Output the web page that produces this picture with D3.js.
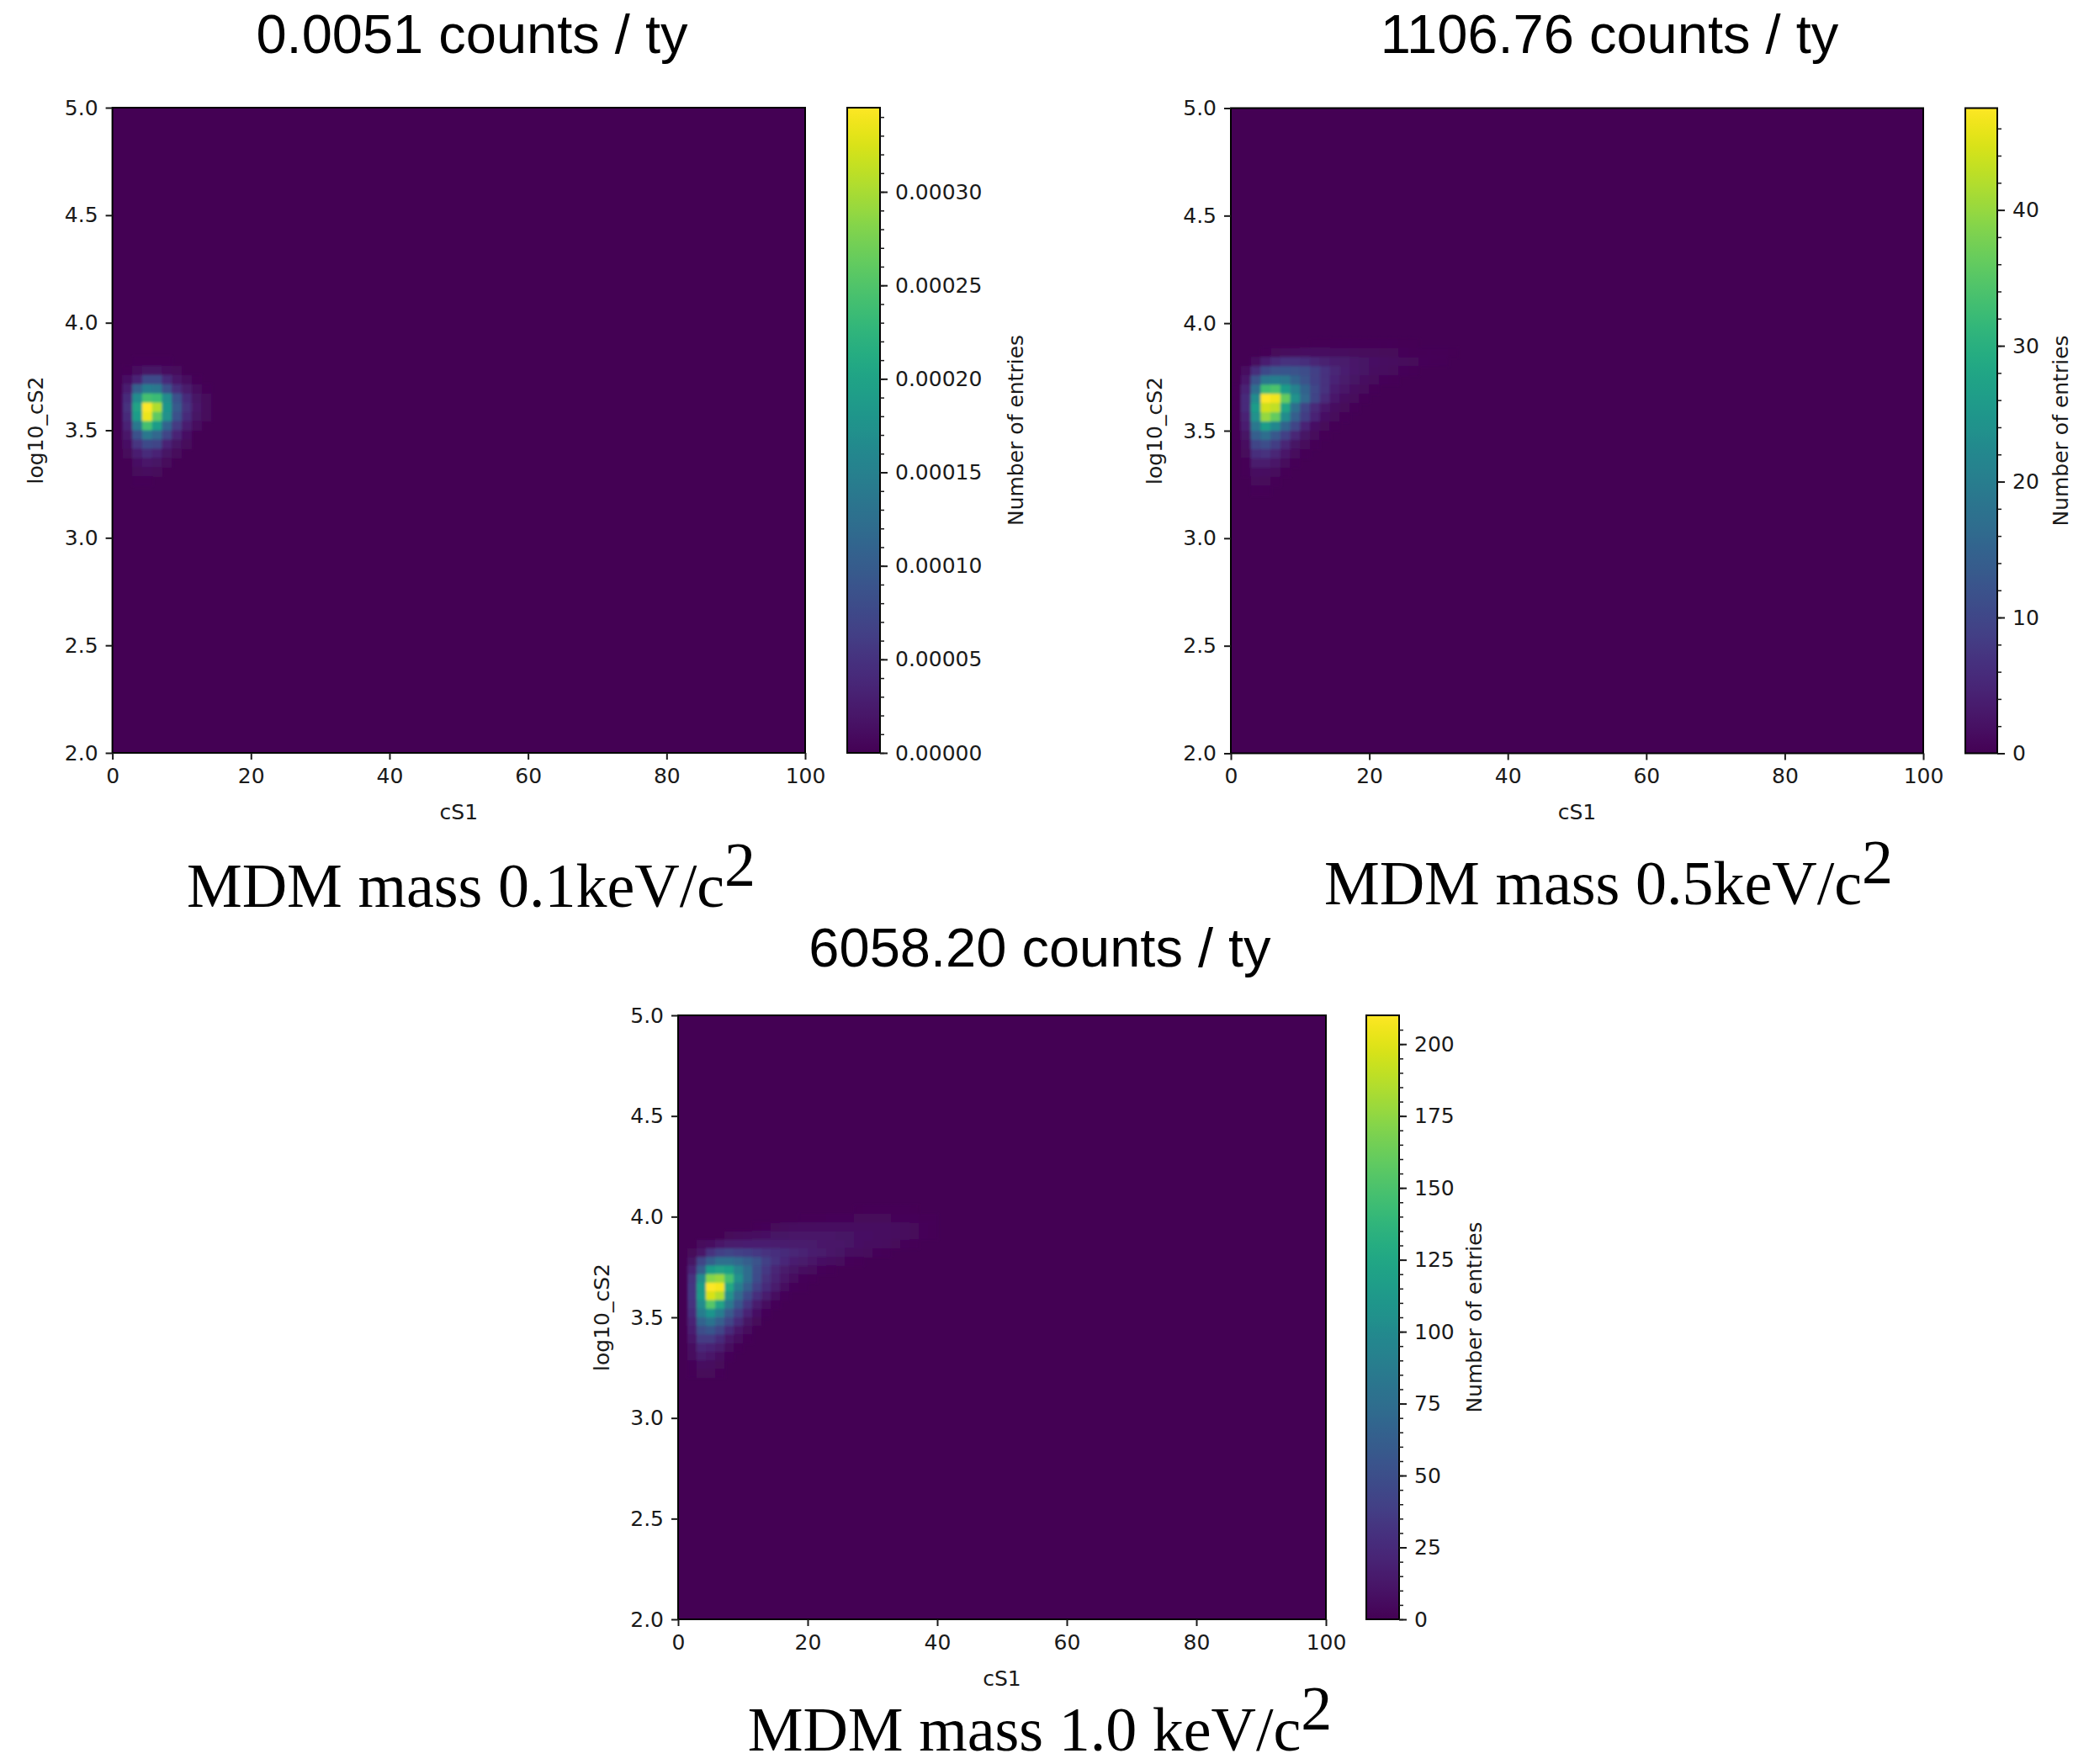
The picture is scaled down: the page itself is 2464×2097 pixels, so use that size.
<!DOCTYPE html>
<html><head><meta charset="utf-8">
<script src="https://cdn.jsdelivr.net/npm/d3@7"></script>
<style>body{margin:0;background:#fff} svg{display:block}</style>
</head><body>
<svg id="chart" width="2464" height="2097"></svg>
<script>
// ---------------- DATA ----------------
const xTicks = [0, 20, 40, 60, 80, 100];
const yTicks = [2.0, 2.5, 3.0, 3.5, 4.0, 4.5, 5.0];
const xDomain = [0, 100];
const yDomain = [2, 5];
const nBinsX = 70, nBinsY = 70;
const xLabel = "cS1";
const yLabel = "log10_cS2";
const cbarLabel = "Number of entries";

const titles = ["0.0051 counts / ty", "1106.76 counts / ty", "6058.20 counts / ty"];
const captions = ["MDM mass 0.1keV/c", "MDM mass 0.5keV/c", "MDM mass 1.0 keV/c"];
const captionSup = "2";

const cbarMax = [0.000345, 47.5, 210];
const cbarTicks1 = [0, 0.00005, 0.00010, 0.00015, 0.00020, 0.00025, 0.00030];
const cbarTicks2 = [0, 10, 20, 30, 40];
const cbarTicks3 = [0, 25, 50, 75, 100, 125, 150, 175, 200];
const cbarMinorStep = [0.00001, 2, 5];

// heat-map bins: [row from top (log10_cS2 bin, 0 = 4.957-5.0), first cS1 bin, values...]
const p1Rows = [
  [27, 2, [3e-6, 3e-6, 3e-6, 3e-6]],
  [28, 1, [3e-6, 1.0e-5, 1.7e-5, 1.7e-5, 1.0e-5, 7e-6]],
  [29, 1, [1.4e-5, 3.5e-5, 7.6e-5, 7.6e-5, 4.1e-5, 2.1e-5, 1.0e-5, 3e-6]],
  [30, 1, [2.8e-5, 1.04e-4, 1.45e-4, 1.38e-4, 8.6e-5, 4.5e-5, 2.4e-5, 1.0e-5, 3e-6]],
  [31, 1, [4.1e-5, 1.66e-4, 2.42e-4, 2.35e-4, 1.66e-4, 8.6e-5, 4.1e-5, 1.7e-5, 7e-6]],
  [32, 1, [4.8e-5, 2.0e-4, 3.45e-4, 3.04e-4, 1.79e-4, 9.7e-5, 4.8e-5, 2.1e-5, 7e-6]],
  [33, 1, [4.1e-5, 1.9e-4, 3.35e-4, 2.59e-4, 1.73e-4, 8.6e-5, 4.1e-5, 1.7e-5, 7e-6]],
  [34, 1, [3.5e-5, 1.38e-4, 2.42e-4, 1.9e-4, 1.1e-4, 5.9e-5, 2.8e-5, 1.0e-5]],
  [35, 1, [2.1e-5, 8.6e-5, 1.38e-4, 1.14e-4, 6.9e-5, 3.5e-5, 1.4e-5]],
  [36, 1, [1.4e-5, 5.2e-5, 7.6e-5, 6.9e-5, 3.5e-5, 1.7e-5, 7e-6]],
  [37, 1, [7e-6, 2.8e-5, 4.1e-5, 3.5e-5, 1.7e-5, 7e-6]],
  [38, 2, [1.4e-5, 2.1e-5, 1.7e-5, 7e-6]],
  [39, 2, [7e-6, 1.0e-5, 7e-6]],
  [40, 2, [3e-6, 3e-6]]
];

const p2Rows = [
  [25, 8, [0.1, 0.15, 0.2, 0.2, 0.25, 0.25, 0.25, 0.2, 0.2, 0.15, 0.1]],
  [26, 3, [0.5, 0.9, 1.2, 1.4, 1.5, 1.5, 1.5, 1.4, 1.3, 1.2, 1.1, 1, 0.9, 0.8, 0.7, 0.5, 0.4, 0.3, 0.2, 0.1]],
  [27, 2, [1.5, 3.8, 5.5, 6.5, 6.8, 6, 5, 4.2, 3.6, 3.2, 2.8, 2.4, 2, 1.7, 1.4, 1.1, 0.8, 0.6, 0.4, 0.2]],
  [28, 1, [1.5, 6, 10.5, 12, 12.5, 12, 11, 9, 7, 5, 4, 3, 2.3, 1.8, 1.3, 1, 0.6, 0.3]],
  [29, 1, [3, 12, 19, 20, 19, 15, 12, 9, 6.5, 4.5, 3.2, 2.3, 1.6, 1.1, 0.6, 0.3]],
  [30, 0, [0.5, 4.8, 17, 33, 34, 26, 21, 15, 10, 6.5, 4, 2.6, 1.6, 1, 0.5]],
  [31, 0, [0.5, 5.7, 23, 47.5, 46.5, 36, 24, 16, 9.5, 5.5, 3, 1.8, 1, 0.5]],
  [32, 0, [0.5, 5.7, 26, 44, 43, 28, 17, 9.5, 5.5, 3, 1.6, 0.8, 0.4]],
  [33, 0, [0.4, 4.8, 24, 40, 36, 23, 14, 8.5, 4.5, 2.2, 1, 0.4]],
  [34, 0, [0.3, 3.8, 19, 26, 22, 15, 9.5, 4.8, 2.2, 0.9, 0.3]],
  [35, 0, [0.2, 2.4, 14, 17, 13, 9, 5, 2.4, 1, 0.4]],
  [36, 1, [1.5, 9.5, 11, 8.5, 5, 2.4, 1, 0.4]],
  [37, 1, [1, 6, 6.5, 5, 2.8, 1.2, 0.4]],
  [38, 1, [0.5, 3.5, 3.5, 2.6, 1.2, 0.5]],
  [39, 1, [0.3, 1.8, 1.8, 1.2, 0.5]],
  [40, 2, [1, 0.9, 0.5]],
  [41, 2, [0.5, 0.4]]
];

const p3Rows = [
  [22, 19, [0.5, 1, 1, 1, 1, 1, 0.5]],
  [23, 13, [1, 2, 2, 3, 3, 3, 4, 4, 4, 4, 3, 3, 3, 2, 1]],
  [24, 8, [2, 3, 4, 5, 6, 7, 7, 8, 8, 8, 8, 8, 7, 7, 7, 6, 5, 4, 3, 2]],
  [25, 5, [4, 5, 6, 8, 9, 10, 10, 11, 11, 11, 11, 11, 10, 10, 9, 9, 8, 7, 6, 5, 4, 3, 1]],
  [26, 2, [5, 8, 13, 15, 16, 17, 17, 17, 16, 16, 15, 15, 14, 13, 12, 11, 10, 9, 8, 7, 6, 4, 3, 1]],
  [27, 1, [4, 12, 31, 40, 42, 40, 38, 35, 31, 28, 25, 22, 19, 16, 14, 12, 10, 8, 6, 5, 3, 2]],
  [28, 1, [10, 42, 63, 76, 76, 71, 63, 53, 40, 31, 23, 18, 14, 11, 9, 7, 5, 3, 2]],
  [29, 1, [21, 63, 115, 122, 118, 95, 74, 50, 35, 22, 14, 10, 7, 5, 3, 1]],
  [30, 1, [29, 101, 172, 178, 147, 105, 74, 48, 30, 19, 11, 6, 3, 1]],
  [31, 1, [32, 115, 210, 206, 126, 88, 63, 40, 25, 15, 7, 3, 1]],
  [32, 1, [32, 115, 197, 185, 105, 71, 46, 28, 16, 7, 3]],
  [33, 1, [29, 101, 155, 122, 84, 55, 32, 16, 7, 3]],
  [34, 1, [25, 88, 109, 88, 59, 38, 21, 9, 3]],
  [35, 1, [21, 67, 80, 63, 42, 25, 10, 4]],
  [36, 1, [17, 50, 55, 42, 25, 13, 5]],
  [37, 1, [13, 36, 36, 25, 13, 6, 2]],
  [38, 1, [8, 23, 21, 15, 6, 2]],
  [39, 1, [6, 15, 13, 8, 3]],
  [40, 1, [3, 8, 6, 4]],
  [41, 1, [2, 4, 4, 2]]
];

// ---------------- LAYOUT ----------------
const panels = [
  {rows: p1Rows, max: cbarMax[0], ticks: cbarTicks1, minor: cbarMinorStep[0], fmt: d3.format(".5f"),
   left: 133.6, top: 128, w: 823.4, h: 767, cbX: 1007, cbW: 39, labPad: 40,
   title: titles[0], titleX: 561, titleY: 63, cap: captions[0], capX: 560, capY: 1078},
  {rows: p2Rows, max: cbarMax[1], ticks: cbarTicks2, minor: cbarMinorStep[1], fmt: d3.format("d"),
   left: 1463, top: 128.5, w: 823, h: 767, cbX: 2336, cbW: 38, labPad: 26,
   title: titles[1], titleX: 1913, titleY: 63, cap: captions[1], capX: 1912, capY: 1075},
  {rows: p3Rows, max: cbarMax[2], ticks: cbarTicks3, minor: cbarMinorStep[2], fmt: d3.format("d"),
   left: 806, top: 1207, w: 770, h: 718, cbX: 1624, cbW: 39, labPad: 24,
   title: titles[2], titleX: 1236, titleY: 1149, cap: captions[2], capX: 1236, capY: 2081}
];

const svg = d3.select("#chart");
const defs = svg.append("defs");
const grad = defs.append("linearGradient").attr("id", "viridisGrad")
  .attr("x1", 0).attr("y1", 1).attr("x2", 0).attr("y2", 0);
d3.range(0, 1.0001, 0.02).forEach(t => {
  grad.append("stop").attr("offset", t).attr("stop-color", d3.interpolateViridis(t));
});
const blur = defs.append("filter").attr("id", "soft").attr("filterUnits", "userSpaceOnUse")
  .attr("x", 0).attr("y", 0).attr("width", 2464).attr("height", 2097);
blur.append("feGaussianBlur").attr("stdDeviation", 1.6);

const tickFont = "DejaVu Sans, sans-serif";
const tickSize = 25;
const ink = "#1a1a1a";

function styleAxis(g) {
  g.selectAll("path.domain").remove();
  g.selectAll(".tick line").attr("stroke", ink).attr("stroke-width", 2);
  g.selectAll(".tick text").attr("fill", ink).attr("font-family", tickFont).attr("font-size", tickSize);
}

panels.forEach((p, pi) => {
  const g = svg.append("g");
  const x = d3.scaleLinear().domain(xDomain).range([p.left, p.left + p.w]);
  const y = d3.scaleLinear().domain(yDomain).range([p.top + p.h, p.top]);
  const color = d3.scaleSequential(d3.interpolateViridis).domain([0, p.max]);
  const bw = (xDomain[1] - xDomain[0]) / nBinsX;
  const bh = (yDomain[1] - yDomain[0]) / nBinsY;

  const clipId = "clip" + pi;
  defs.append("clipPath").attr("id", clipId).append("rect")
    .attr("x", x(xDomain[0])).attr("y", y(yDomain[1]))
    .attr("width", x(xDomain[1]) - x(xDomain[0])).attr("height", y(yDomain[0]) - y(yDomain[1]));

  const hm = g.append("g").attr("clip-path", `url(#${clipId})`);
  // zero bins
  hm.append("rect")
    .attr("x", x(xDomain[0])).attr("y", y(yDomain[1]))
    .attr("width", x(xDomain[1]) - x(xDomain[0])).attr("height", y(yDomain[0]) - y(yDomain[1]))
    .attr("fill", color(0));

  const cells = [];
  p.rows.forEach(([r, c0, vals]) => vals.forEach((v, k) => cells.push({r, c: c0 + k, v})));
  hm.append("g").attr("filter", "url(#soft)")
    .selectAll("rect.cell").data(cells).join("rect").attr("class", "cell")
    .attr("x", d => x(xDomain[0] + d.c * bw))
    .attr("width", d => x(xDomain[0] + (d.c + 1) * bw) - x(xDomain[0] + d.c * bw) + 0.6)
    .attr("y", d => y(yDomain[1] - d.r * bh))
    .attr("height", d => y(yDomain[1] - (d.r + 1) * bh) - y(yDomain[1] - d.r * bh) + 0.6)
    .attr("fill", d => color(d.v));

  // frame
  g.append("rect").attr("x", p.left).attr("y", p.top).attr("width", p.w).attr("height", p.h)
    .attr("fill", "none").attr("stroke", "#000").attr("stroke-width", 2);

  // axes
  const gx = g.append("g").attr("transform", `translate(0,${p.top + p.h})`)
    .call(d3.axisBottom(x).tickValues(xTicks).tickSize(8).tickPadding(10).tickFormat(d3.format("d")));
  styleAxis(gx);
  const gy = g.append("g").attr("transform", `translate(${p.left},0)`)
    .call(d3.axisLeft(y).tickValues(yTicks).tickSize(8).tickPadding(9).tickFormat(d3.format(".1f")));
  styleAxis(gy);

  g.append("text").text(xLabel).attr("x", p.left + p.w / 2).attr("y", p.top + p.h + 70)
    .attr("text-anchor", "middle").attr("dominant-baseline", "central")
    .attr("font-family", tickFont).attr("font-size", tickSize).attr("fill", ink);
  g.append("text").text(yLabel)
    .attr("transform", `translate(${p.left - 91},${p.top + p.h / 2}) rotate(-90)`)
    .attr("text-anchor", "middle").attr("dominant-baseline", "central")
    .attr("font-family", tickFont).attr("font-size", tickSize).attr("fill", ink);

  // colorbar
  const cy = d3.scaleLinear().domain([0, p.max]).range([p.top + p.h, p.top]);
  g.append("rect").attr("x", p.cbX).attr("y", p.top).attr("width", p.cbW).attr("height", p.h)
    .attr("fill", "url(#viridisGrad)").attr("stroke", "#000").attr("stroke-width", 2);
  const minorVals = d3.range(0, p.max, p.minor);
  const gm = g.append("g").attr("transform", `translate(${p.cbX + p.cbW},0)`)
    .call(d3.axisRight(cy).tickValues(minorVals).tickSize(5).tickFormat(""));
  styleAxis(gm);
  gm.selectAll(".tick line").attr("stroke-width", 1.5);
  const gc = g.append("g").attr("transform", `translate(${p.cbX + p.cbW},0)`)
    .call(d3.axisRight(cy).tickValues(p.ticks).tickSize(9).tickPadding(9).tickFormat(p.fmt));
  styleAxis(gc);
  const bb = gc.node().getBBox();
  const lx = p.cbX + p.cbW + bb.width + p.labPad;
  g.append("text").text(cbarLabel)
    .attr("transform", `translate(${lx},${p.top + p.h / 2}) rotate(-90)`)
    .attr("text-anchor", "middle").attr("dominant-baseline", "central")
    .attr("font-family", tickFont).attr("font-size", tickSize).attr("fill", ink);

  // title
  svg.append("text").text(p.title).attr("x", p.titleX).attr("y", p.titleY)
    .attr("text-anchor", "middle").attr("font-family", "Liberation Sans, Arial, sans-serif")
    .attr("font-size", 65).attr("fill", "#000");

  // caption
  const cap = svg.append("text").attr("x", p.capX).attr("y", p.capY)
    .attr("text-anchor", "middle").attr("font-family", "Liberation Serif, Times New Roman, serif")
    .attr("font-size", 74).attr("fill", "#000");
  cap.append("tspan").text(p.cap);
  cap.append("tspan").text(captionSup).attr("dy", "-0.34em").attr("font-size", 74);
});
</script>
</body></html>
